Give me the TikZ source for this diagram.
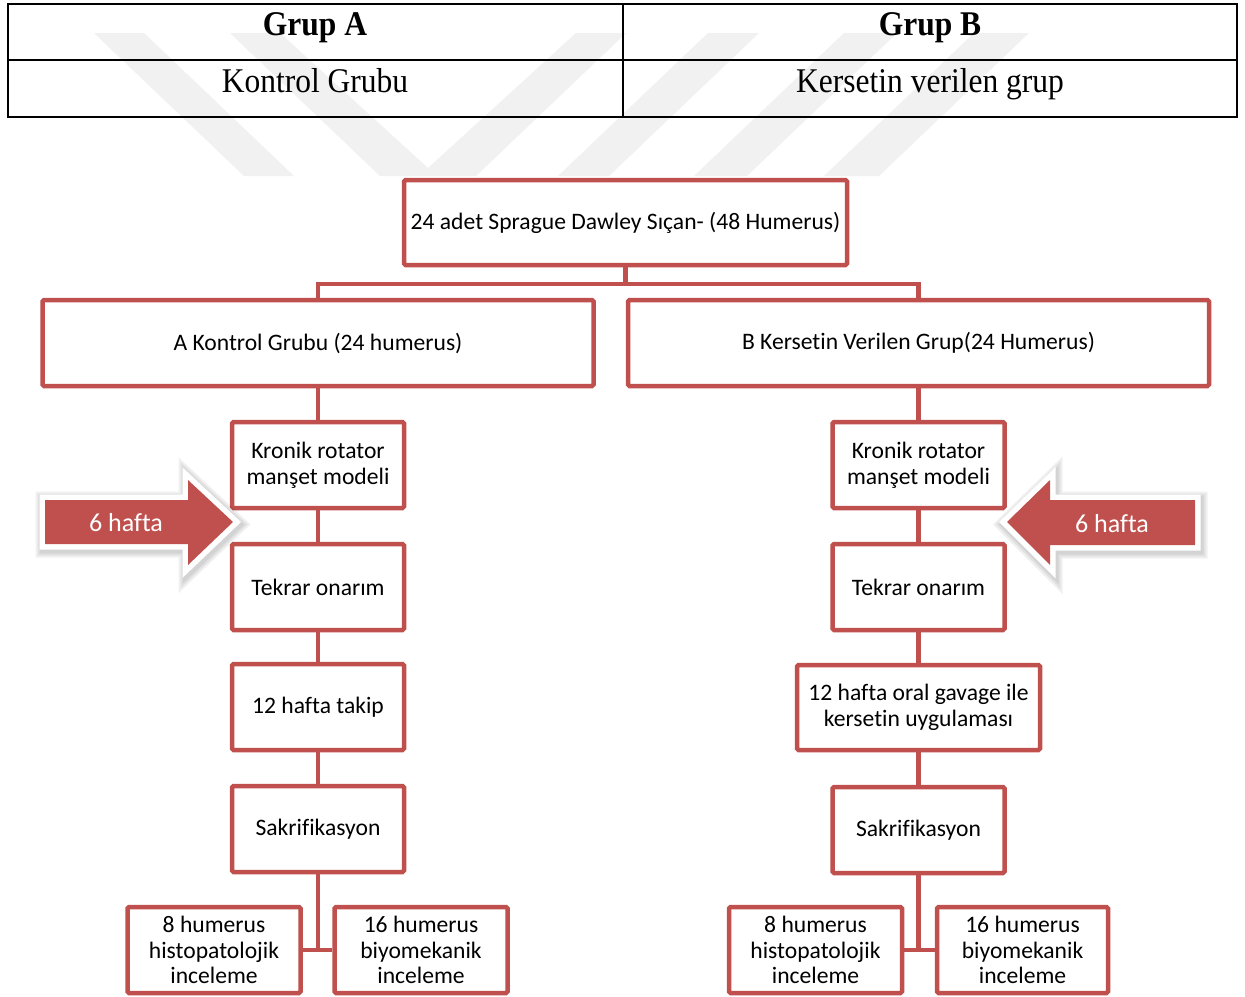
\documentclass[tikz,border=0pt]{standalone}
\usepackage{fontspec}
\setmainfont{Carlito}[Ligatures=NoCommon]
\newfontfamily\tnr{Liberation Serif}
\definecolor{boxred}{HTML}{C0504D}
\definecolor{wmgray}{HTML}{F1F1F1}
\newcommand\boxfont{\fontsize{23.6}{25.8}\selectfont}
\newcommand\tabfont{\fontsize{31.5}{34}\selectfont\tnr}
\tikzset{
  stepbox/.style={draw=boxred, line width=4.5, fill=white, rounded corners=1.5,
    inner sep=0, align=center, font=\boxfont, text=black},
  link/.style={draw=boxred, line width=4.5},
  arrshadow/.style={draw=black, fill=black, opacity=0.06, line join=miter},
  arrwhite/.style={draw=white, fill=white, line width=11, line join=miter},
  arrred/.style={fill=boxred, draw=none},
  arrowtext/.style={text=white, font=\fontsize{26}{28}\selectfont, inner sep=0},
  tabtext/.style={font=\tabfont, inner sep=0, text=black, anchor=base},
  wmark/.style={fill=wmgray, draw=none}
}
\def\leftarr{(45,500) -- (188,500) -- (188,480) -- (233,522) -- (188,565) -- (188,544) -- (45,544) -- cycle}
\def\rightarr{(1195,500) -- (1050,500) -- (1050,480) -- (1007,522) -- (1050,565) -- (1050,545) -- (1195,545) -- cycle}
\begin{document}
\begin{tikzpicture}[x=1pt, y=-1pt]
\useasboundingbox (0,0) rectangle (1245,996);
\fill[white] (0,0) rectangle (1245,996);
% watermark
\path[wmark] (94,33) -- (144,33) -- (294,176) -- (244,176) -- cycle;
\path[wmark] (230,33) -- (280,33) -- (428,168) -- (576,33) -- (626,33) -- (476,176) -- (380,176) -- cycle;
\path[wmark] (558,176) -- (609,176) -- (759,33) -- (708,33) -- cycle;
\path[wmark] (694,176) -- (747,176) -- (897,33) -- (844,33) -- cycle;
\path[wmark] (824,176) -- (879,176) -- (1029,33) -- (974,33) -- cycle;
% table
\draw[black, line width=2.2] (8,4) rectangle (1237,117);
\draw[black, line width=2.2] (8,60) -- (1237,60);
\draw[black, line width=2.2] (623,4) -- (623,117);
\node[tabtext] (ga) at (315,35) {\scalebox{1}[1.1]{\bfseries Grup A}};
\node[tabtext] (gb) at (930,35) {\scalebox{1}[1.1]{\bfseries Grup B}};
\node[tabtext] (kg) at (315,92) {\scalebox{1}[1.1]{Kontrol Grubu}};
\node[tabtext] (kv) at (930,92) {\scalebox{1}[1.1]{Kersetin verilen grup}};
% flowchart boxes
\node[stepbox, minimum width=443, minimum height=85] (top) at (625.5,222.5) {24 adet Sprague Dawley Sıçan- (48 Humerus)};
\node[stepbox, minimum width=551, minimum height=86] (A) at (318,343) {A Kontrol Grubu (24 humerus)};
\node[stepbox, minimum width=581, minimum height=86] (B) at (918.5,343) {B Kersetin Verilen Grup(24 Humerus)};
\node[stepbox, minimum width=172, minimum height=86] (kr1) at (318,465) {Kronik rotator\\manşet modeli};
\node[stepbox, minimum width=172, minimum height=86] (tk1) at (318,587) {Tekrar onarım};
\node[stepbox, minimum width=172, minimum height=86] (h1) at (318,707) {12 hafta takip};
\node[stepbox, minimum width=172, minimum height=86] (sk1) at (318,829) {Sakrifikasyon};
\node[stepbox, minimum width=173, minimum height=86] (b1l) at (214,950) {8 humerus\\histopatolojik\\inceleme};
\node[stepbox, minimum width=173, minimum height=86] (b2l) at (421,950) {16 humerus\\biyomekanik\\inceleme};
\node[stepbox, minimum width=172, minimum height=86] (kr2) at (918.5,465) {Kronik rotator\\manşet modeli};
\node[stepbox, minimum width=172, minimum height=86] (tk2) at (918.5,587) {Tekrar onarım};
\node[stepbox, minimum width=243, minimum height=85] (h2) at (918.5,707.5) {12 hafta oral gavage ile\\kersetin uygulaması};
\node[stepbox, minimum width=172, minimum height=86] (sk2) at (918.5,830) {Sakrifikasyon};
\node[stepbox, minimum width=173, minimum height=86] (b1r) at (815.5,950) {8 humerus\\histopatolojik\\inceleme};
\node[stepbox, minimum width=171, minimum height=86] (b2r) at (1022.5,950) {16 humerus\\biyomekanik\\inceleme};
% connectors
\coordinate (j) at (625.5,284);
\draw[link] (top.south) -- (j);
\draw[link] (j) -| (A.north);
\draw[link] (j) -| (B.north);
\draw[link] (A.south) -- (kr1.north);
\draw[link] (kr1.south) -- (tk1.north);
\draw[link] (tk1.south) -- (h1.north);
\draw[link] (h1.south) -- (sk1.north);
\draw[link] (sk1.south) -- (sk1.south |- b1l.east);
\draw[link] (b1l.east) -- (b2l.west);
\draw[link] (B.south) -- (kr2.north);
\draw[link] (kr2.south) -- (tk2.north);
\draw[link] (tk2.south) -- (h2.north);
\draw[link] (h2.south) -- (sk2.north);
\draw[link] (sk2.south) -- (sk2.south |- b1r.east);
\draw[link] (b1r.east) -- (b2r.west);
% arrows (soft shadow, white rim, red body)
\foreach \w in {22,18,14} {
  \path[arrshadow, line width=\w, xshift=1.5pt, yshift=-2.5pt] \leftarr;
  \path[arrshadow, line width=\w, xshift=1.5pt, yshift=-2.5pt] \rightarr;
}
\path[arrwhite] \leftarr;
\path[arrwhite] \rightarr;
\path[arrred] \leftarr;
\path[arrred] \rightarr;
\node[arrowtext] (al) at (126,523) {6 hafta};
\node[arrowtext] (ar) at (1112,524) {6 hafta};
\end{tikzpicture}
\end{document}
